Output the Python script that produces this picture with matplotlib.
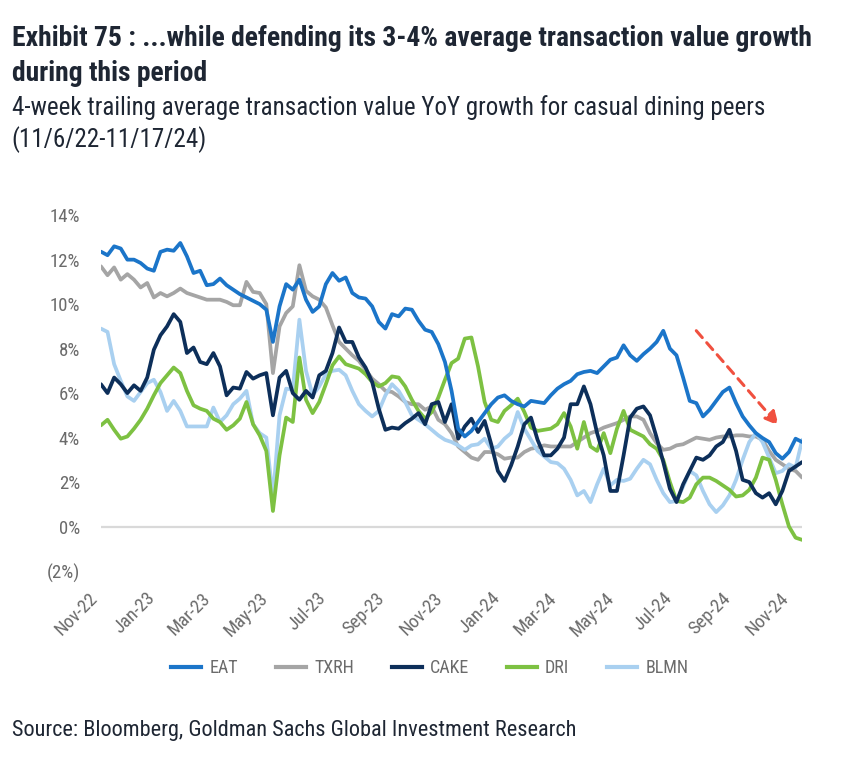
import numpy as np
import pandas as pd
import matplotlib
matplotlib.use("Agg")
import matplotlib.pyplot as plt
import matplotlib.dates as mdates
from matplotlib.ticker import FixedLocator, FuncFormatter
from matplotlib.lines import Line2D

plt.rcParams['font.family'] = ['Roboto Condensed', 'Roboto', 'DejaVu Sans']

# weekly observations, 11/6/22 - 11/17/24
dates = pd.date_range('2022-11-06', periods=107, freq='7D')

eat = [12.36, 12.2, 12.6, 12.5, 12.0, 12.0, 11.85, 11.6, 11.5, 12.35,
       12.45, 12.4, 12.75, 12.15, 11.4, 11.5, 10.85, 10.9, 11.15, 10.85,
       10.65, 10.45, 10.3, 10.15, 10.0, 9.75, 8.3, 9.9, 10.9, 10.65,
       11.1, 10.2, 9.65, 9.9, 10.9, 11.4, 11.05, 11.2, 10.5, 10.3,
       10.25, 9.9, 9.2, 8.9, 9.55, 9.45, 9.8, 9.75, 9.25, 8.85,
       8.75, 8.2, 7.4, 6.1, 4.4, 4.05, 4.3, 4.7, 5.1, 5.5,
       5.8, 5.9, 5.65, 5.5, 5.4, 5.65, 5.6, 5.55, 5.9, 6.2,
       6.4, 6.55, 6.85, 6.95, 7.0, 6.9, 7.2, 7.5, 7.6, 8.15,
       7.7, 7.45, 7.75, 8.0, 8.3, 8.8, 8.0, 7.7, 6.7, 5.65,
       5.55, 4.95, 5.25, 5.65, 6.05, 6.25, 5.55, 4.95, 4.55, 4.2,
       3.98, 3.8, 3.3, 3.05, 3.35, 3.95, 3.8]

txrh = [11.7, 11.3, 11.65, 11.1, 11.35, 11.1, 10.75, 10.95, 10.3, 10.5,
        10.35, 10.5, 10.7, 10.5, 10.4, 10.3, 10.2, 10.2, 10.2, 10.1,
        9.95, 9.95, 11.0, 10.55, 10.5, 10.0, 6.9, 9.0, 9.6, 9.9,
        11.75, 10.6, 10.35, 10.2, 9.85, 9.05, 8.3, 8.0, 7.7, 7.45,
        7.05, 6.65, 6.4, 6.1, 6.05, 5.85, 5.6, 5.5, 5.5, 5.25,
        5.4, 4.8, 4.6, 4.2, 3.6, 3.35, 3.1, 3.0, 3.35, 3.35,
        3.25, 3.05, 3.1, 3.1, 3.35, 3.5, 3.55, 3.65, 3.6, 3.6,
        3.6, 3.6, 3.8, 4.0, 4.2, 4.3, 4.45, 4.55, 4.65, 4.8,
        4.95, 4.95, 4.8, 4.2, 3.75, 3.45, 3.5, 3.65, 3.7, 3.85,
        4.0, 3.95, 3.9, 4.0, 4.05, 4.05, 4.1, 4.1, 4.05, 4.05,
        3.9, 3.4, 3.0, 2.8, 2.6, 2.5, 2.2]

cake = [6.4, 6.0, 6.7, 6.4, 6.0, 6.35, 6.1, 6.7, 7.95, 8.6,
        9.0, 9.55, 9.2, 7.8, 8.05, 7.4, 7.3, 7.8, 7.2, 5.9,
        6.25, 6.2, 6.95, 6.65, 6.8, 6.9, 5.0, 6.7, 7.0, 6.0,
        5.7, 6.1, 5.8, 6.8, 7.0, 7.8, 8.95, 8.3, 8.3, 7.6,
        7.15, 6.5, 5.3, 4.35, 4.45, 4.4, 4.65, 4.85, 5.1, 4.6,
        5.5, 5.6, 4.7, 5.5, 3.95, 4.5, 4.85, 4.25, 4.75, 3.7,
        2.5, 2.05, 2.75, 3.6, 4.6, 4.9, 3.9, 3.2, 3.2, 3.5,
        4.0, 5.5, 5.5, 6.3, 5.5, 4.2, 3.2, 1.6, 1.6, 3.2,
        4.9, 5.3, 5.4, 5.0, 4.0, 2.9, 1.7, 1.1, 1.9, 2.5,
        3.1, 3.0, 3.2, 3.6, 3.8, 4.35, 3.4, 2.1, 2.0, 1.5,
        1.3, 1.5, 1.0, 1.6, 2.5, 2.7, 2.9]

dri = [4.55, 4.8, 4.35, 3.95, 4.05, 4.4, 4.8, 5.3, 5.9, 6.45,
       6.8, 7.15, 6.9, 6.1, 5.45, 5.3, 5.2, 4.85, 4.7, 4.35,
       4.55, 4.85, 5.6, 4.6, 4.1, 3.4, 0.7, 3.2, 4.9, 4.7,
       7.6, 5.7, 5.1, 5.6, 6.4, 7.25, 7.65, 7.3, 7.2, 7.1,
       6.85, 6.5, 6.3, 6.45, 6.75, 6.7, 6.3, 5.7, 5.2, 4.85,
       5.15, 5.8, 6.6, 7.35, 7.55, 8.45, 8.5, 7.2, 5.6, 4.8,
       4.7, 5.2, 5.45, 5.75, 5.15, 4.45, 4.3, 4.35, 4.4, 4.6,
       5.1, 4.5, 3.5, 4.7, 3.6, 3.4, 4.2, 3.3, 4.4, 5.2,
       4.35, 4.2, 4.05, 3.7, 3.5, 3.0, 2.0, 1.15, 1.1, 1.3,
       1.9, 2.2, 2.2, 2.05, 1.85, 1.65, 1.35, 1.4, 1.65, 2.2,
       3.1, 3.0, 2.1, 1.0, 0.0, -0.5, -0.6]

blmn = [8.9, 8.75, 7.3, 6.55, 5.85, 5.65, 6.05, 6.45, 6.6, 6.05,
        5.2, 5.65, 5.2, 4.5, 4.5, 4.5, 4.5, 5.35, 4.7, 5.0,
        5.5, 5.75, 6.1, 4.6, 4.2, 4.0, 1.3, 5.0, 6.2, 6.15,
        9.3, 7.0, 5.9, 6.3, 6.85, 7.0, 7.05, 6.8, 6.1, 5.5,
        5.2, 4.95, 5.2, 5.9, 6.4, 6.1, 5.6, 5.0, 4.8, 4.6,
        4.35, 4.1, 3.9, 3.8, 3.65, 3.45, 3.65, 3.7, 3.95, 3.5,
        3.6, 3.95, 4.2, 5.15, 4.4, 3.9, 3.4, 3.15, 2.9, 2.85,
        2.6, 2.1, 1.4, 1.6, 1.1, 1.9, 2.6, 1.85, 2.1, 2.05,
        2.15, 2.6, 3.0, 2.8, 2.1, 1.5, 1.1, 1.15, 1.8, 2.5,
        2.3, 1.6, 1.0, 0.65, 0.95, 1.4, 2.1, 3.0, 3.8, 4.2,
        3.8, 3.1, 2.4, 2.5, 2.8, 2.65, 3.9]

names = ['EAT', 'TXRH', 'CAKE', 'DRI', 'BLMN']
colors = ['#1B75C9', '#A5A5A5', '#0D2F5A', '#7DC142', '#A9D0F0']
series = [eat, txrh, cake, dri, blmn]

y_ticks = [-2, 0, 2, 4, 6, 8, 10, 12, 14]
x_ticks = pd.date_range('2022-11-06', '2024-11-17', freq=pd.DateOffset(months=2))

# red dashed trend arrow (date, value)
arrow_from = ('2024-07-26', 8.9)
arrow_to = ('2024-10-25', 4.45)

fig = plt.figure(figsize=(8.48, 7.63), dpi=100)
ax = fig.add_axes([0.119, 0.2516, 0.827, 0.4664])

ax.axhline(0, color='#D9D9D9', lw=1.6, zorder=1)
# draw back to front the way the reference stacks them
for k in [1, 0, 4, 3, 2]:
    ax.plot(dates, series[k], color=colors[k], lw=2.7, zorder=2 + (k == 0),
            solid_joinstyle='round', solid_capstyle='round')

ax.annotate('', xy=(pd.Timestamp(arrow_to[0]), arrow_to[1]),
            xytext=(pd.Timestamp(arrow_from[0]), arrow_from[1]),
            arrowprops=dict(arrowstyle='-|>,head_length=0.8,head_width=0.4',
                            color='#F0503F', lw=2.2, ls=(0, (3, 2.2))),
            zorder=5)

ax.set_xlim(dates[0], dates[-1])
ax.set_ylim(-2, 14)
ax.yaxis.set_major_locator(FixedLocator(y_ticks))
ax.yaxis.set_major_formatter(FuncFormatter(
    lambda v, p: '(%d%%)' % abs(v) if v < 0 else '%d%%' % v))
ax.set_xticks(x_ticks)
ax.xaxis.set_major_formatter(mdates.DateFormatter('%b-%y'))
for s in ax.spines.values():
    s.set_visible(False)
ax.tick_params(axis='both', length=0, colors='#6B6B6B', labelsize=13.5)
ax.tick_params(axis='y', pad=15)
ax.tick_params(axis='x', pad=13)
for lab in ax.get_xticklabels():
    lab.set_rotation(45)
    lab.set_ha('right')

fig.text(0.014, 0.950, 'Exhibit 75 : ...while defending its 3-4% average transaction value growth',
         fontsize=19.9, fontweight='bold', color='#1E2633', va='center')
fig.text(0.014, 0.904, 'during this period',
         fontsize=19.9, fontweight='bold', color='#1E2633', va='center')
fig.text(0.014, 0.859, '4-week trailing average transaction value YoY growth for casual dining peers',
         fontsize=18, color='#1E2633', va='center')
fig.text(0.014, 0.817, '(11/6/22-11/17/24)',
         fontsize=18, color='#1E2633', va='center')
fig.text(0.014, 0.043, 'Source: Bloomberg, Goldman Sachs Global Investment Research',
         fontsize=16, color='#1E2633', va='center')

handles = [Line2D([], [], color=c, lw=3) for c in colors]
fig.legend(handles, names, loc='center', bbox_to_anchor=(0.507, 0.1245), ncol=5,
           frameon=False, fontsize=13, handlelength=1.66, handletextpad=0.45,
           columnspacing=2.1, labelcolor='#6B6B6B')

fig.savefig('out.png', dpi=100)
